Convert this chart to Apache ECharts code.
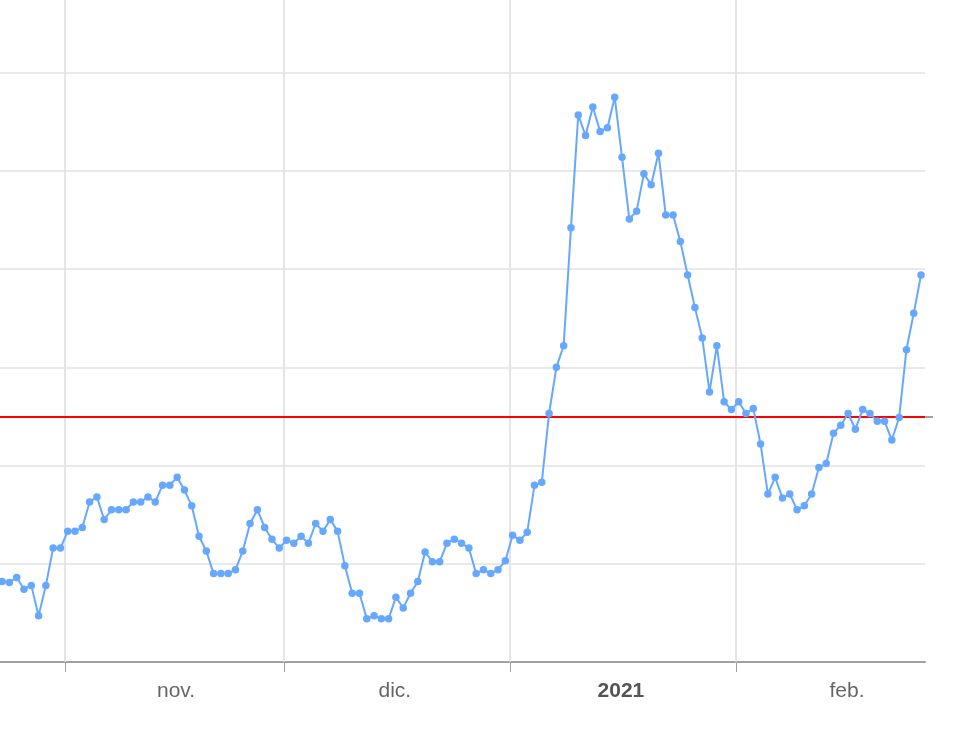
<!DOCTYPE html>
<html>
<head>
<meta charset="utf-8">
<script src="https://cdn.jsdelivr.net/npm/echarts@6/dist/echarts.min.js"></script>
<style>
  html, body { margin: 0; padding: 0; background: #ffffff; }
  #chart { width: 956px; height: 736px; }
</style>
</head>
<body>
<div id="chart"></div>
<script>
// ---- Data (daily values) ----
// Each month's array starts at the given day of month.
const octStartDay = 22;
const octValues = [0.82, 0.82, 0.81, 0.86, 0.74, 0.78, 0.47, 0.78, 1.16, 1.16];
const novValues = [1.33, 1.33, 1.37, 1.63, 1.68, 1.45, 1.55, 1.55, 1.55, 1.63,
                   1.63, 1.68, 1.63, 1.80, 1.80, 1.88, 1.75, 1.59, 1.28, 1.13,
                   0.90, 0.90, 0.90, 0.94, 1.13, 1.41, 1.55, 1.37, 1.25, 1.16];
const decValues = [1.24, 1.21, 1.28, 1.21, 1.41, 1.33, 1.45, 1.33, 0.98, 0.70,
                   0.70, 0.44, 0.47, 0.44, 0.44, 0.66, 0.55, 0.70, 0.82, 1.12,
                   1.02, 1.02, 1.21, 1.25, 1.21, 1.16, 0.90, 0.94, 0.90, 0.94, 1.03];
const janValues = [1.29, 1.24, 1.32, 1.80, 1.83, 2.53, 3.00, 3.22, 4.42, 5.57,
                   5.36, 5.65, 5.40, 5.44, 5.75, 5.14, 4.51, 4.59, 4.97, 4.86,
                   5.18, 4.55, 4.55, 4.28, 3.94, 3.61, 3.30, 2.75, 3.22, 2.65, 2.57];
const febValues = [2.65, 2.53, 2.58, 2.22, 1.71, 1.88, 1.67, 1.71, 1.55, 1.59,
                   1.71, 1.98, 2.02, 2.33, 2.41, 2.53, 2.37, 2.57, 2.53, 2.45,
                   2.45, 2.26, 2.49, 3.18, 3.55, 3.94];
const referenceValue = 2.5;
const yGridValues = [1, 2, 3, 4, 5, 6];

// Axis text
const monthLabels = ['nov.', 'dic.', '2021', 'feb.'];
const monthStarts = [[2020, 10, 1], [2020, 11, 1], [2021, 0, 1], [2021, 1, 1]];

// ---- Build series from arrays ----
const POINT_HOUR = 9;
const monthsData = [
  { y: 2020, m: 9, start: octStartDay, vals: octValues },
  { y: 2020, m: 10, start: 1, vals: novValues },
  { y: 2020, m: 11, start: 1, vals: decValues },
  { y: 2021, m: 0, start: 1, vals: janValues },
  { y: 2021, m: 1, start: 1, vals: febValues }
];
const seriesData = [];
monthsData.forEach(md => {
  md.vals.forEach((v, i) => {
    seriesData.push([new Date(md.y, md.m, md.start + i, POINT_HOUR).getTime(), v]);
  });
});

const tickValues = monthStarts.map(d => new Date(d[0], d[1], d[2]).getTime());
const labelValues = monthStarts.map(d => new Date(d[0], d[1], 16, 5, 20).getTime());

const xMin = new Date(2020, 9, 23, 2, 5).getTime();
const xMax = new Date(2021, 1, 26, 22, 5).getTime();
const Y_MAX = 6.74;

const FONT = "'Liberation Sans', Arial, Helvetica, sans-serif";

const vGridLines = tickValues.map(t => ({
  xAxis: t,
  lineStyle: { color: '#dcdcdc', width: 1.5, type: 'solid' }
}));
const hGridLines = yGridValues.map(v => ({
  yAxis: v,
  lineStyle: { color: '#e2e2e2', width: 1.5, type: 'solid' }
}));

const chart = echarts.init(document.getElementById('chart'), null, { renderer: 'canvas' });
chart.setOption({
  animation: false,
  backgroundColor: '#ffffff',
  grid: { left: 0, right: 31, top: 0, bottom: 74, containLabel: false },
  xAxis: {
    type: 'value',
    min: xMin,
    max: xMax,
    axisLine: { show: true, lineStyle: { color: '#a0a0a0', width: 2 } },
    axisTick: {
      show: true, customValues: tickValues, length: 10, inside: false,
      lineStyle: { color: '#a0a0a0', width: 1 }
    },
    splitLine: { show: false },
    axisLabel: {
      show: true,
      customValues: labelValues,
      margin: 19,
      fontSize: 21,
      fontFamily: FONT,
      color: '#666666',
      hideOverlap: false,
      showMinLabel: true,
      showMaxLabel: true,
      formatter: function (val) {
        let idx = 0, best = Infinity;
        labelValues.forEach((lv, i) => { const d = Math.abs(lv - val); if (d < best) { best = d; idx = i; } });
        const txt = monthLabels[idx];
        return /^\d{4}$/.test(txt) ? '{y|' + txt + '}' : txt;
      },
      rich: {
        y: { fontSize: 21, fontWeight: 'bold', color: '#555555', fontFamily: FONT }
      }
    }
  },
  yAxis: [{
    type: 'value',
    min: 0,
    max: Y_MAX,
    axisLine: { show: false },
    axisTick: { show: false },
    axisLabel: { show: false },
    splitLine: { show: false }
  }, {
    type: 'value',
    position: 'right',
    min: 0,
    max: Y_MAX,
    axisLine: { show: false },
    axisTick: { show: true, customValues: [referenceValue], length: 8, lineStyle: { color: '#a0a0a0', width: 2 } },
    axisLabel: { show: false },
    splitLine: { show: false }
  }],
  series: [{
    type: 'line',
    data: [],
    z: 1,
    silent: true,
    markLine: {
      silent: true,
      z: 1,
      symbol: ['none', 'none'],
      label: { show: false },
      data: vGridLines.concat(hGridLines).concat([{
        yAxis: referenceValue,
        lineStyle: { color: '#ff0000', width: 2, type: 'solid' }
      }])
    }
  }, {
    type: 'line',
    data: seriesData,
    symbol: 'circle',
    symbolSize: 7.5,
    showSymbol: true,
    showAllSymbol: true,
    clip: true,
    z: 6,
    lineStyle: { color: '#66a8ff', width: 2 },
    itemStyle: { color: '#66a8ff' }
  }]
});
</script>
</body>
</html>
